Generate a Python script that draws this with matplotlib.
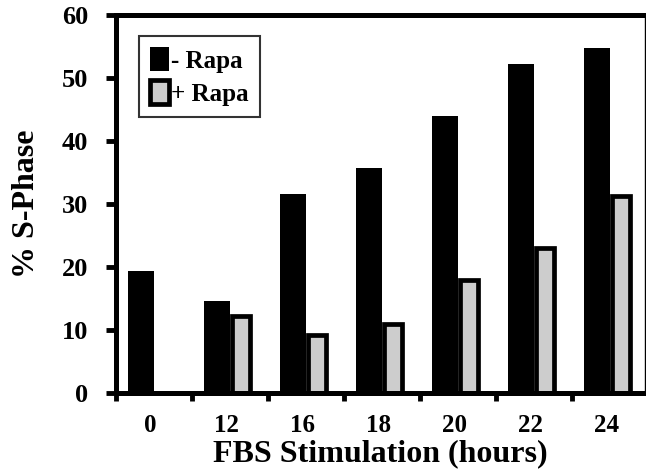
import matplotlib
matplotlib.use("Agg")
import matplotlib.pyplot as plt
import numpy as np

hours = ["0", "12", "16", "18", "20", "22", "24"]
minus_rapa = [19.4, 14.6, 31.6, 35.7, 43.9, 52.3, 54.7]
plus_rapa = [np.nan, 12.2, 9.2, 11.0, 17.9, 23.0, 31.2]

plt.rcParams['font.family'] = ['Liberation Serif', 'DejaVu Serif']
plt.rcParams['font.weight'] = 'bold'

fig = plt.figure(figsize=(6.46, 4.74), dpi=100)
ax = fig.add_axes([116/646, 81/474, 529/646, 378/474])

x = np.arange(len(hours))
ax.bar(x - 0.17, minus_rapa, width=0.34, color='black', label='- Rapa')
ax.bar(x + 0.145, plus_rapa, width=0.245, color='#cdcdcd', edgecolor='black',
       linewidth=3.4, label='+ Rapa')

ax.set_xlim(-0.5, 6.46)
ax.set_ylim(0, 60)
ax.set_yticks(range(0, 61, 10))
ax.set_xticks(x - 0.05)
ax.set_xticklabels(hours)
ax.set_xticks(np.arange(-0.5, 6, 1), minor=True)

ax.tick_params(axis='y', direction='out', length=7, width=3.5, labelsize=19, pad=13)
ax.tick_params(axis='x', which='major', length=0, labelsize=18, pad=15)
ax.tick_params(axis='x', which='minor', direction='out', length=6, width=3.5)

for side in ['left', 'top', 'bottom']:
    ax.spines[side].set_linewidth(3.6)
ax.spines['right'].set_linewidth(1.0)

ax.set_xlabel('FBS Stimulation (hours)', fontsize=23, fontweight='bold', labelpad=2)
ax.set_ylabel('% S-Phase', fontsize=23, fontweight='bold', labelpad=15)

leg = ax.legend(loc='upper left', bbox_to_anchor=(0.043, 0.945), fontsize=18,
                frameon=True, fancybox=False, handlelength=0.75, handleheight=1.1,
                handletextpad=0.1, borderpad=0.45, borderaxespad=0, labelspacing=0.3)
leg.get_frame().set_edgecolor('black')
leg.get_frame().set_linewidth(1.5)

fig.savefig('out.png', dpi=100)
